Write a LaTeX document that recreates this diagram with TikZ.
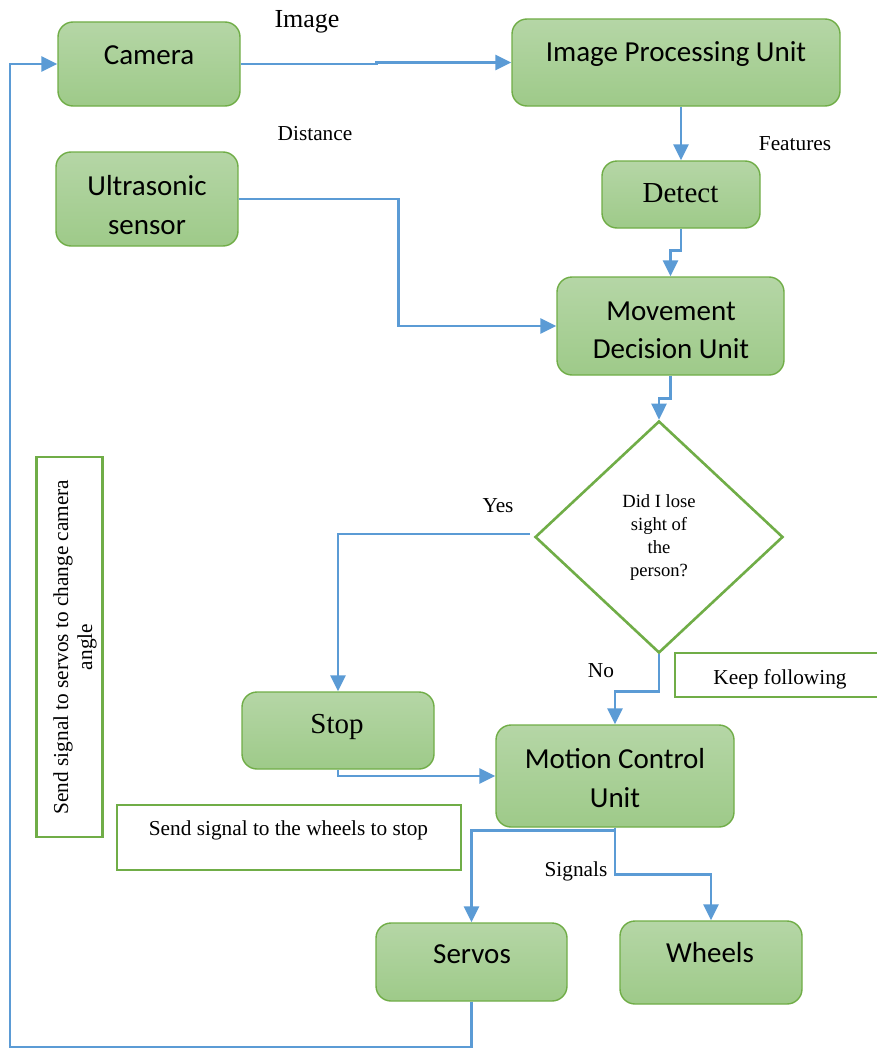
\documentclass[tikz,border=0pt]{standalone}
\usepackage{fontspec}
\setmainfont{Liberation Serif}
\newfontfamily\calfont{Carlito}
\usetikzlibrary{arrows.meta,shapes.geometric}
\definecolor{lineblue}{HTML}{5B9BD5}
\definecolor{boxgreen}{HTML}{70AD47}
\definecolor{filltop}{HTML}{B5D6A6}
\definecolor{fillbot}{HTML}{9ECA89}
\begin{document}
\begin{tikzpicture}[x=1pt,y=-1pt,
  gbox/.style={draw=boxgreen, line width=1.4pt, rounded corners=15pt, top color=filltop, bottom color=fillbot, inner sep=0pt},
  tbox/.style={draw=boxgreen, line width=2.6pt, fill=white, inner sep=0pt},
  dbox/.style={draw=boxgreen, line width=2.6pt, fill=white, shape=diamond, inner sep=0pt},
  conn/.style={draw=lineblue, line width=2.6pt, -{Triangle[length=16pt,width=15pt]}},
  ctext/.style={font=\calfont\fontsize{29}{39}\selectfont, inner sep=0pt, align=center, anchor=base},
  ttext/.style={font=\fontsize{29}{34}\selectfont, inner sep=0pt, anchor=base},
  lbl/.style={font=\fontsize{21.3}{24}\selectfont, inner sep=0pt, anchor=base},
  dtext/.style={font=\fontsize{18.6}{23}\selectfont, inner sep=0pt, anchor=base},
]
\useasboundingbox (0,0) rectangle (877,1049);

% boxes
\node[gbox, minimum width=182pt, minimum height=84pt] (cam) at (149,64) {};
\node[gbox, minimum width=328pt, minimum height=87pt] (ipu) at (676,62.5) {};
\node[gbox, minimum width=158pt, minimum height=67pt] (det) at (681,194.5) {};
\node[gbox, minimum width=182pt, minimum height=94pt] (us) at (147,199) {};
\node[gbox, minimum width=227pt, minimum height=98pt] (mdu) at (670.5,326) {};
\node[dbox, minimum width=248pt, minimum height=232pt, aspect=1.07] (dia) at (659,537) {};
\node[tbox, minimum width=225pt, minimum height=44pt] (keep) at (787.5,675) {};
\node[gbox, minimum width=192pt, minimum height=77pt] (stop) at (338,730.5) {};
\node[gbox, minimum width=238pt, minimum height=102pt] (mcu) at (615,776) {};
\node[tbox, minimum width=66pt, minimum height=380pt] (sserv) at (69.5,647) {};
\node[tbox, minimum width=344pt, minimum height=65pt] (swhl) at (289,837.5) {};
\node[gbox, minimum width=191pt, minimum height=78pt] (srv) at (471.5,962) {};
\node[gbox, minimum width=182pt, minimum height=83pt] (whl) at (711,962.5) {};

% box texts
\node[ctext] (camt) at (149,64) {Camera};
\node[ctext] (iput) at (676,62) {Image Processing Unit};
\node[ttext] (dett) at (680.5,202) {Detect};
\node[ctext] (ust1) at (147,195) {Ultrasonic};
\node[ctext] (ust2) at (147,234) {sensor};
\node[ctext] (mdut1) at (671,320) {Movement};
\node[ctext] (mdut2) at (671,358) {Decision Unit};
\node[dtext] (diat1) at (659,507) {Did I lose};
\node[dtext] (diat2) at (659,530) {sight of};
\node[dtext] (diat3) at (659,553) {the};
\node[dtext] (diat4) at (659,576) {person?};
\node[lbl] (keept) at (780,684) {Keep following};
\node[ttext] (stopt) at (337,733) {Stop};
\node[ctext] (mcut1) at (615,768) {Motion Control};
\node[ctext] (mcut2) at (615,807) {Unit};
\node[lbl, anchor=base, rotate=90] (sservt1) at (68,647) {Send signal to servos to change camera};
\node[lbl, anchor=base, rotate=90] (sservt2) at (92,647) {angle};
\node[lbl] (swhlt) at (288.5,835) {Send signal to the wheels to stop};
\node[ctext] (srvt) at (472,963) {Servos};
\node[ctext] (whlt) at (710,962) {Wheels};

% labels
\node[font=\fontsize{26}{30}\selectfont, inner sep=0pt, anchor=base] (limg) at (307,28) {Image};
\node[lbl] (ldist) at (315,140) {Distance};
\node[lbl] (lfeat) at (795,150) {Features};
\node[lbl] (lyes) at (498,512) {Yes};
\node[lbl] (lno) at (601,677) {No};
\node[lbl] (lsig) at (576,876) {Signals};

% connectors
\coordinate (fb) at (10,1047);
\draw[conn] (cam.east) -- ++(136,0) |- (ipu.west);
\draw[conn] (det.north |- ipu.south) -- (det.north);
\draw[conn] (det.south) -- ++(0,22) -| (mdu.north);
\draw[conn] (us.east) -- ++(160,0) |- (mdu.west);
\draw[conn] (mdu.south) -- ++(0,23) -| (dia.north);
\draw[conn] ([xshift=-4pt,yshift=3pt]dia.west) -| (stop.north);
\draw[conn] (dia.south) -- ++(0,37) -| (mcu.north);
\draw[conn] (stop.south) |- (mcu.west);
\draw[conn] (mcu.south) -- ++(0,3) -| (srv.north);
\draw[conn] (mcu.south) -- ++(0,47) -| (whl.north);
\draw[conn] (srv.south) |- (fb) |- (cam.west);
\end{tikzpicture}
\end{document}
